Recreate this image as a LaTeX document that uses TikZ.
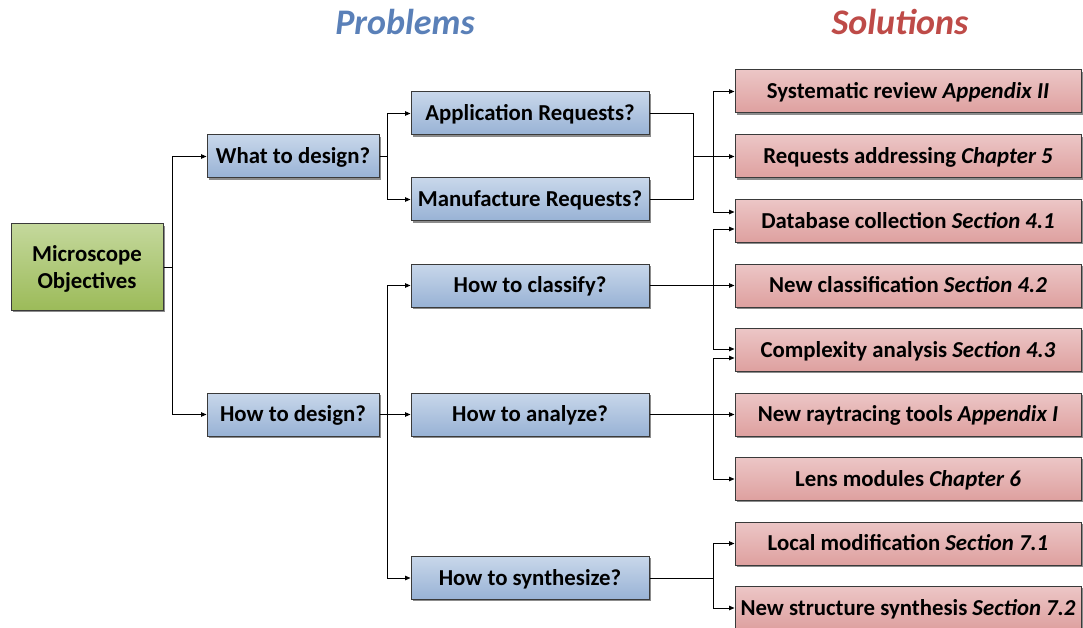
\documentclass[tikz,border=0pt]{standalone}
\usepackage{fontspec}
\setmainfont{Carlito}
\usetikzlibrary{arrows.meta,shadows}

\definecolor{probblue}{HTML}{5A80B8}
\definecolor{solred}{HTML}{BE4B48}
\definecolor{edgegray}{HTML}{3A3A3A}
\definecolor{greentop}{RGB}{196,216,156}
\definecolor{greenbot}{RGB}{156,187,89}
\definecolor{bluetop}{RGB}{200,215,234}
\definecolor{bluebot}{RGB}{152,178,213}
\definecolor{redtop}{RGB}{236,198,198}
\definecolor{redbot}{RGB}{222,160,159}

\tikzset{
  box/.style={draw=edgegray, line width=1pt, inner sep=0pt, align=center,
    font=\fontsize{22.8}{26.5}\selectfont\bfseries,
    drop shadow={shadow xshift=1.6pt, shadow yshift=-1.6pt, opacity=0.45, fill=black}},
  oneline/.style={text height=20pt, text depth=5.6pt},
  rootbox/.style={box, top color=greentop, bottom color=greenbot,
    minimum width=152pt, minimum height=86pt},
  probbox/.style={box, oneline, top color=bluetop, bottom color=bluebot},
  solbox/.style={box, oneline, top color=redtop, bottom color=redbot,
    minimum width=346pt, minimum height=43pt},
  midbox/.style={probbox, minimum width=172pt, minimum height=43pt},
  qbox/.style={probbox, minimum width=238pt, minimum height=43pt},
  link/.style={line width=0.9pt, draw=black},
  arr/.style={link, -{Triangle[length=5.5pt,width=4.5pt]}},
  heading/.style={font=\fontsize{36}{40}\selectfont\bfseries\itshape}
}

\begin{document}
\begin{tikzpicture}[x=1pt,y=-1pt]
\useasboundingbox (0,0) rectangle (1083,628);
\clip (0,0) rectangle (1083,628);

% column headings
\node[heading, text=probblue] (hprob) at (405,22) {Problems};
\node[heading, text=solred] (hsol) at (900,22) {Solutions};

% root
\node[rootbox] (mo) at (87,267) {\rule{0pt}{20pt}Microscope\\Objectives};

% first level
\node[midbox] (what) at (293,156.5) {What to design?};
\node[midbox] (howd) at (293,414.5) {How to design?};

% problems
\node[qbox] (app) at (530,113.5) {Application Requests?};
\node[qbox] (man) at (530,199.5) {Manufacture Requests?};
\node[qbox] (cls) at (530,285.5) {How to classify?};
\node[qbox] (ana) at (530,414.5) {How to analyze?};
\node[qbox] (syn) at (530,578) {How to synthesize?};

% solutions
\node[solbox] (s1) at (908,91.5)  {Systematic review \textit{Appendix II}};
\node[solbox] (s2) at (908,156.5) {Requests addressing \textit{Chapter 5}};
\node[solbox] (s3) at (908,221)   {Database collection \textit{Section 4.1}};
\node[solbox] (s4) at (908,285.5) {New classification \textit{Section 4.2}};
\node[solbox] (s5) at (908,350)   {Complexity analysis \textit{Section 4.3}};
\node[solbox] (s6) at (908,414.5) {New raytracing tools \textit{Appendix I}};
\node[solbox] (s7) at (908,479)   {Lens modules \textit{Chapter 6}};
\node[solbox] (s8) at (908,543.5) {Local modification \textit{Section 7.1}};
\node[solbox] (s9) at (908,608)   {New structure synthesis \textit{Section 7.2}};

% junction points
\coordinate (j0) at (172,267);
\coordinate (j1) at (387,156.5);
\coordinate (j2) at (387,414.5);
\coordinate (m1) at (693,156.5);
\coordinate (k1) at (713,156.5);
\coordinate (k2) at (713,285.5);
\coordinate (k3) at (713,414.5);
\coordinate (k4) at (713,578);

% root to first level
\draw[link] (mo.east) -- (j0);
\draw[arr] (j0) |- (what.west);
\draw[arr] (j0) |- (howd.west);

% what to design
\draw[link] (what.east) -- (j1);
\draw[arr] (j1) |- (app.west);
\draw[arr] (j1) |- (man.west);

% how to design
\draw[arr] (howd.east) -- (ana.west);
\draw[arr] (j2) |- (cls.west);
\draw[arr] (j2) |- (syn.west);

% requests merge
\draw[link] (app.east) -| (m1) |- (man.east);
\draw[arr] (m1) -- (s2.west);
\draw[arr] (k1) |- (s1.west);
\draw[arr] (k1) |- ([yshift=9pt]s3.west);

% classification
\draw[arr] (cls.east) -- (s4.west);
\draw[arr] (k2) |- ([yshift=-8pt]s3.west);
\draw[arr] (k2) |- ([yshift=1pt]s5.west);

% analysis
\draw[arr] (ana.east) -- (s6.west);
\draw[arr] (k3) |- ([yshift=-8pt]s5.west);
\draw[arr] (k3) |- (s7.west);

% synthesis
\draw[link] (syn.east) -- (k4);
\draw[arr] (k4) |- (s8.west);
\draw[arr] (k4) |- (s9.west);
\end{tikzpicture}
\end{document}
